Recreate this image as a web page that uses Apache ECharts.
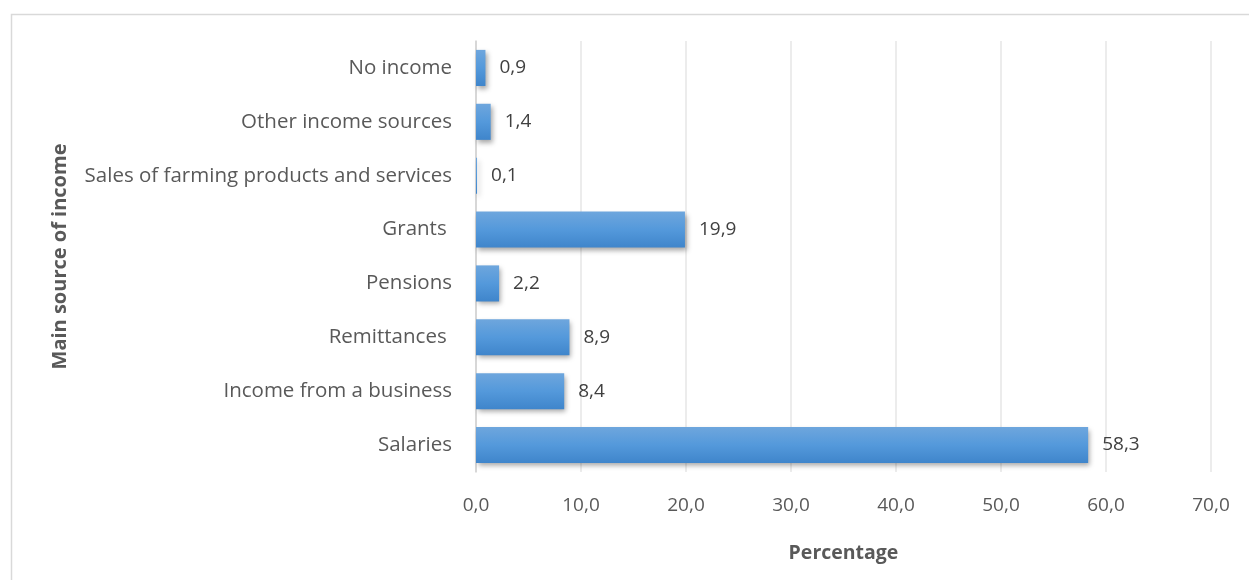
<!DOCTYPE html>
<html>
<head>
<meta charset="utf-8">
<style>
  html, body { margin: 0; padding: 0; background: #ffffff; }
  #chart { width: 1249px; height: 580px; }
</style>
<script src="https://cdn.jsdelivr.net/npm/echarts@6/dist/echarts.min.js"></script>
</head>
<body>
<div id="chart"></div>
<script>
// Main source of income, share of households (%), listed bottom to top
const categories = [
  'Salaries',
  'Income from a business',
  'Remittances ',
  'Pensions',
  'Grants ',
  'Sales of farming products and services',
  'Other income sources',
  'No income'
];
const values = [58.3, 8.4, 8.9, 2.2, 19.9, 0.1, 1.4, 0.9];
const xTicks = { min: 0, max: 70, interval: 10 };

const FONT = '"Open Sans", "Noto Sans", sans-serif';
const fmt = v => Number(v).toFixed(1).replace('.', ',');

const chart = echarts.init(document.getElementById('chart'), null, { renderer: 'canvas' });

chart.setOption({
  backgroundColor: '#ffffff',
  animation: false,
  graphic: [{
    type: 'rect',
    left: 9, top: 12,
    shape: { width: 1300, height: 620 },
    style: { fill: 'none', stroke: '#d9d9d9', lineWidth: 1.5 },
    silent: true, z: -10
  }],
  grid: { left: 476, right: 38, top: 41, bottom: 108, containLabel: false },
  xAxis: {
    type: 'value',
    min: xTicks.min, max: xTicks.max, interval: xTicks.interval,
    name: 'Percentage',
    nameLocation: 'middle',
    nameGap: 71,
    nameTextStyle: { fontFamily: FONT, fontSize: 19.5, fontWeight: 'bold', color: '#595959' },
    axisLine: { show: false },
    axisTick: { show: false },
    axisLabel: { formatter: fmt, fontFamily: FONT, fontSize: 19, color: '#595959', margin: 24 },
    splitLine: { show: true, lineStyle: { color: '#e6e6e6', width: 1.5 } }
  },
  yAxis: {
    type: 'category',
    data: categories,
    name: 'Main source of income',
    nameLocation: 'middle',
    nameGap: 406,
    nameRotate: 90,
    nameTextStyle: { fontFamily: FONT, fontSize: 20, fontWeight: 'bold', color: '#595959' },
    axisLine: { show: true, lineStyle: { color: '#d0d0d0', width: 1.5 } },
    axisTick: { show: false },
    axisLabel: { fontFamily: FONT, fontSize: 20.5, color: '#595959', margin: 24 },
    splitLine: { show: false }
  },
  series: [{
    type: 'bar',
    data: values,
    barCategoryGap: '33%',
    itemStyle: {
      color: new echarts.graphic.LinearGradient(0, 0, 0, 1, [
        { offset: 0, color: '#6ea6dd' },
        { offset: 0.5, color: '#5499db' },
        { offset: 1, color: '#3f85cb' }
      ]),
      shadowColor: 'rgba(0,0,0,0.35)',
      shadowBlur: 5,
      shadowOffsetX: 2,
      shadowOffsetY: 3
    },
    label: {
      show: true,
      position: 'right',
      distance: 14,
      formatter: p => fmt(p.value),
      fontFamily: FONT,
      fontSize: 19,
      color: '#404040'
    }
  }]
});
</script>
</body>
</html>
